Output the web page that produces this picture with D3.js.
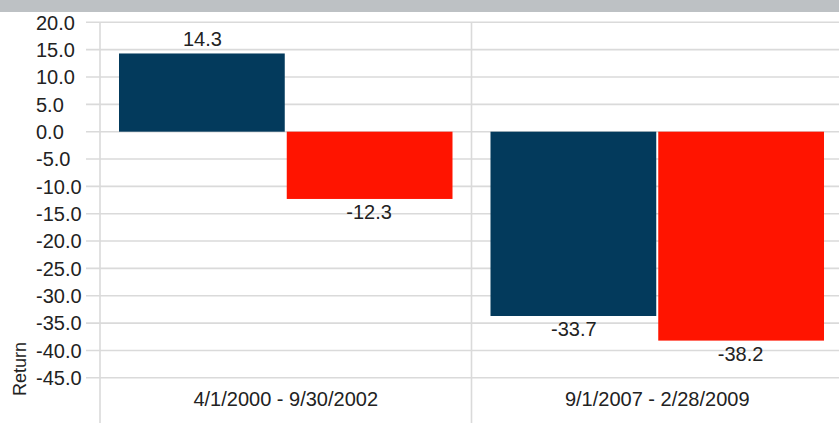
<!DOCTYPE html>
<html><head><meta charset="utf-8">
<script src="https://cdn.jsdelivr.net/npm/d3@7"></script>
<style>
html,body{margin:0;padding:0;background:#fff;}
svg{display:block;font-family:"Liberation Sans",Arial,sans-serif;}
</style></head><body>
<svg id="chart" width="839" height="423"></svg>
<script>
const categories = ["4/1/2000 - 9/30/2002", "9/1/2007 - 2/28/2009"];
const seriesNames = ["Series A", "Series B"];
const seriesA = [14.3, -33.7];
const seriesB = [-12.3, -38.2];
const yTicks = [20, 15, 10, 5, 0, -5, -10, -15, -20, -25, -30, -35, -40, -45];
const colors = ["#033a5c", "#ff1400"];

const fmt = v => v.toFixed(1);
const svg = d3.select("#chart");
const W = 839, H = 423;

svg.append("rect").attr("x",0).attr("y",0).attr("width",W).attr("height",12).attr("fill","#bdc1c4");

const y = d3.scaleLinear().domain([20,-45]).range([22.3,377.8]);
const x0 = d3.scaleBand().domain(categories).range([100,843]).padding(0);
const x1 = d3.scaleBand().domain(seriesNames).range([19, x0.bandwidth()-19]).padding(0);

const grid = "#dadada";
svg.selectAll("line.h").data(yTicks).enter().append("line")
  .attr("x1",86).attr("x2",W+5)
  .attr("y1",d=>y(d)).attr("y2",d=>y(d))
  .attr("stroke",grid).attr("stroke-width",1.6);
svg.selectAll("line.v").data(categories).enter().append("line")
  .attr("x1",d=>x0(d)).attr("x2",d=>x0(d))
  .attr("y1",y(20)).attr("y2",H)
  .attr("stroke",grid).attr("stroke-width",1.6);

svg.selectAll("text.yt").data(yTicks).enter().append("text")
  .attr("x",36).attr("y",d=>y(d)).attr("dy","0.36em")
  .attr("font-size",20).attr("fill","#222")
  .text(d=>fmt(d));

const data = categories.map((c,i)=>({cat:c, vals:[{s:seriesNames[0],v:seriesA[i],c:colors[0]},{s:seriesNames[1],v:seriesB[i],c:colors[1]}]}));

const g = svg.selectAll("g.grp").data(data).enter().append("g")
  .attr("transform",d=>`translate(${x0(d.cat)},0)`);
g.selectAll("rect").data(d=>d.vals).enter().append("rect")
  .attr("x",d=>x1(d.s)+ (d.s===seriesNames[1]?1:0))
  .attr("width",x1.bandwidth()-1)
  .attr("y",d=>y(Math.max(0,d.v)))
  .attr("height",d=>Math.abs(y(d.v)-y(0)))
  .attr("fill",d=>d.c);
g.selectAll("text").data(d=>d.vals).enter().append("text")
  .attr("x",d=>x1(d.s)+x1.bandwidth()/2)
  .attr("y",d=>d.v>=0 ? y(d.v)-7.5 : y(d.v)+20.5)
  .attr("text-anchor","middle").attr("font-size",20).attr("fill","#222")
  .text(d=>fmt(d.v));

svg.selectAll("text.cat").data(categories).enter().append("text")
  .attr("x",d=>x0(d)+x0.bandwidth()/2).attr("y",405.5)
  .attr("text-anchor","middle").attr("font-size",20).attr("fill","#222")
  .text(d=>d);

svg.append("text").attr("transform","translate(26,369) rotate(-90)")
  .attr("text-anchor","middle").attr("font-size",18).attr("fill","#222")
  .text("Return");
</script>
</body></html>
